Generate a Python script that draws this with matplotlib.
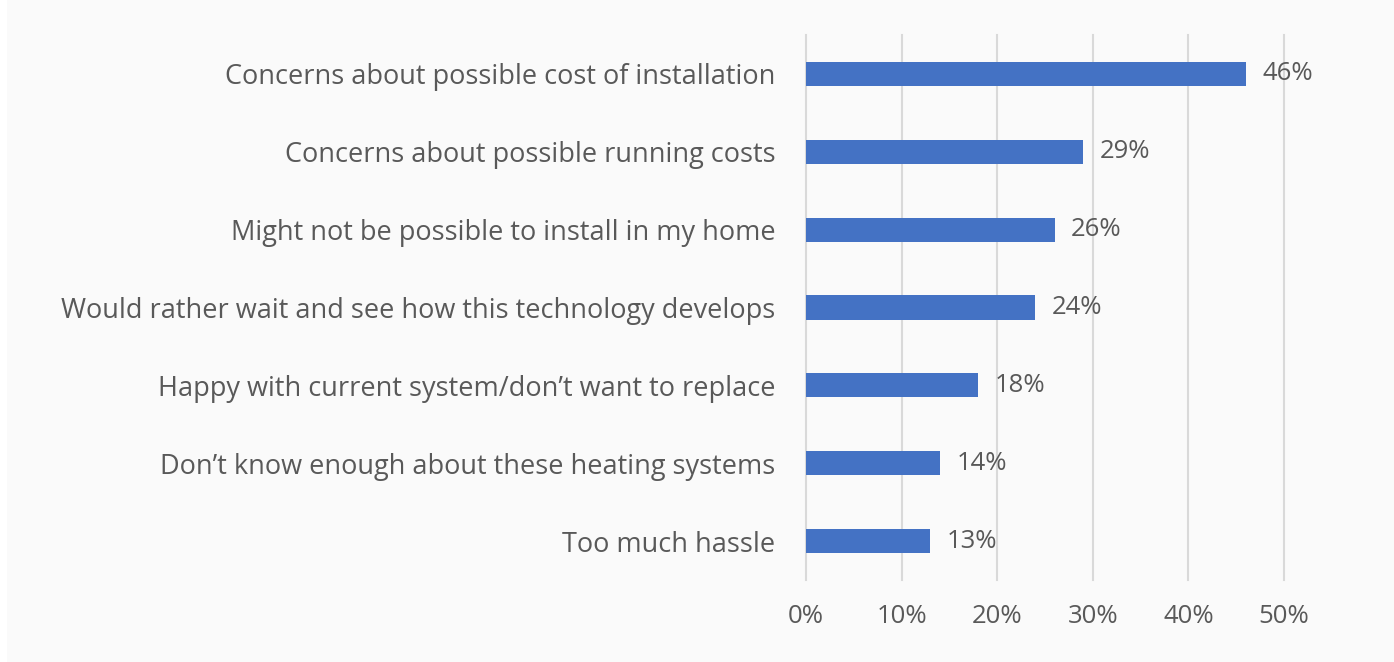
import matplotlib
matplotlib.use("Agg")
import matplotlib.pyplot as plt
from matplotlib.patches import Rectangle
from matplotlib.ticker import FuncFormatter

# ---------------------------------------------------------------------------
# Data
# ---------------------------------------------------------------------------
reasons = [
    "Concerns about possible cost of installation",
    "Concerns about possible running costs",
    "Might not be possible to install in my home",
    "Would rather wait and see how this technology develops",
    "Happy with current system/don\u2019t want to replace",
    "Don\u2019t know enough about these heating systems",
    "Too much hassle",
]
shares = [46, 29, 26, 24, 18, 14, 13]
x_ticks = [0, 10, 20, 30, 40, 50]

BAR_COLOR = "#4472C4"
TEXT_COLOR = "#595959"
GRID_COLOR = "#d9d9d9"
BG_COLOR = "#fafafa"
LABEL_SIZE = 19.5
VALUE_SIZE = 18.5

plt.rcParams["font.family"] = ["Open Sans", "DejaVu Sans"]

fig = plt.figure(figsize=(13.94, 6.62), dpi=100)
fig.patch.set_facecolor("white")
fig.patches.append(Rectangle((7 / 1394, 0), 1, 1, transform=fig.transFigure,
                             facecolor=BG_COLOR, edgecolor="none", zorder=-10))

ax = fig.add_axes([806 / 1394, 82 / 662, 478 / 1394, 545 / 662])
ax.set_facecolor("none")

y = list(range(len(reasons)))
bars = ax.barh(y, shares, height=0.31, color=BAR_COLOR, zorder=3)
ax.bar_label(bars, labels=[f"{v}%" for v in shares], padding=12,
             fontsize=VALUE_SIZE, color=TEXT_COLOR)

ax.set_ylim(len(reasons) - 0.5, -0.5)
ax.set_xlim(0, 50)
ax.set_xticks(x_ticks)
ax.xaxis.set_major_formatter(FuncFormatter(lambda v, _: f"{v:.0f}%"))
ax.set_yticks(y)
ax.set_yticklabels(reasons)

ax.grid(axis="x", color=GRID_COLOR, linewidth=1.5, zorder=0)
for line in ax.get_xgridlines():
    line.set_clip_on(False)
for spine in ax.spines.values():
    spine.set_visible(False)

ax.tick_params(axis="y", length=0, pad=22, labelsize=LABEL_SIZE, labelcolor=TEXT_COLOR)
ax.tick_params(axis="x", length=0, pad=17, labelsize=VALUE_SIZE, labelcolor=TEXT_COLOR)

fig.savefig("out.png", dpi=100, facecolor=fig.get_facecolor())
